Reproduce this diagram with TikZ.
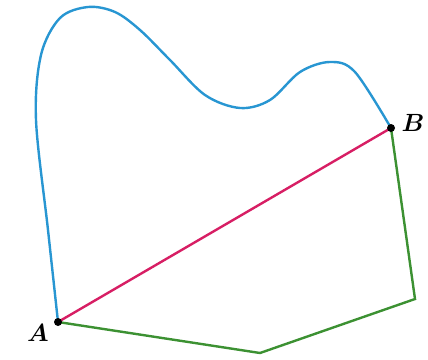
\documentclass[tikz,border=0pt]{standalone}
\usepackage{bm}
\begin{document}
\begin{tikzpicture}[x=1pt,y=-1pt,
  curvestyle/.style={line width=2.4pt, line join=round},
  chordstyle/.style={line width=2.4pt},
  polystyle/.style={line width=2.4pt, line join=miter},
  dotstyle/.style={circle, fill=black, inner sep=0pt, minimum size=8pt},
  lbl/.style={font=\fontsize{26}{30}\selectfont}]
\useasboundingbox (0,0) rectangle (428,359);
\definecolor{cblue}{RGB}{40,150,210}
\definecolor{cmag}{RGB}{215,30,100}
\definecolor{cgreen}{RGB}{60,145,50}
\coordinate (A) at (58,322);
\coordinate (B) at (391,128);
\coordinate (P1) at (260,353);
\coordinate (P2) at (415,299);
\draw[curvestyle, draw=cblue] plot[smooth, tension=0.55] coordinates {(A) (48,230) (36,120) (41,55) (60,18) (88,7) (115,12) (140,30) (170,60) (205,95) (240,108) (270,100) (300,72) (330,62) (355,72) (B)};
\draw[polystyle, draw=cgreen] (A) -- (P1) -- (P2) -- (B);
\draw[chordstyle, draw=cmag] (A) -- (B);
\node[dotstyle] (Ad) at (A) {};
\node[dotstyle] (Bd) at (B) {};
\node[lbl] (LA) at (38,333) {$\bm{A}$};
\node[lbl] (LB) at (413,123) {$\bm{B}$};
\end{tikzpicture}
\end{document}
